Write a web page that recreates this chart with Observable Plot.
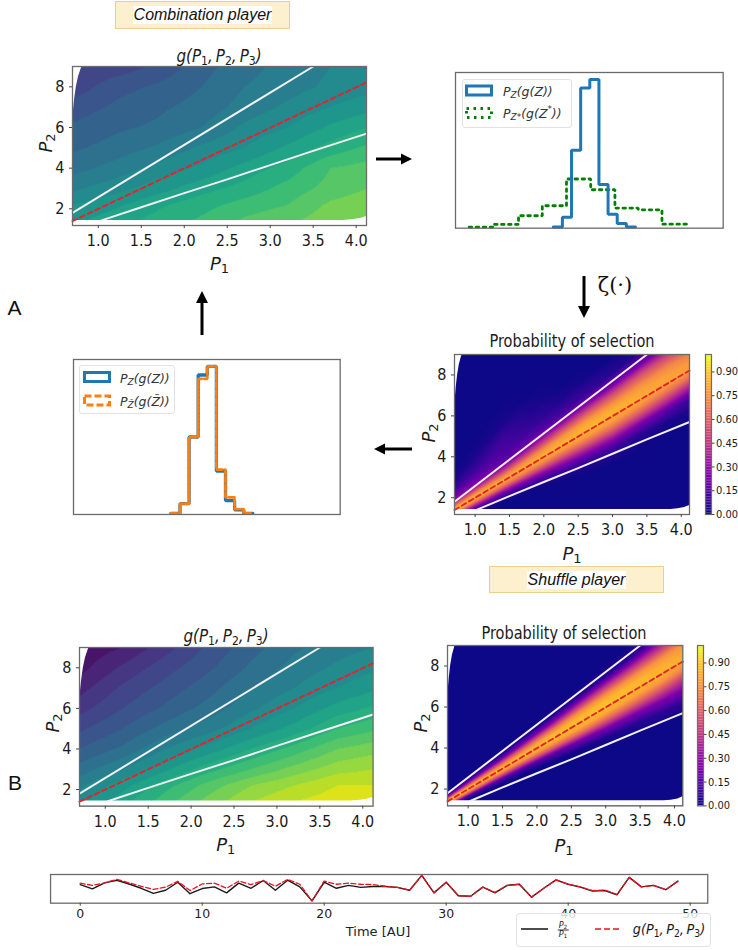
<!DOCTYPE html>
<html><head><meta charset="utf-8">
<script src="https://cdn.jsdelivr.net/npm/d3@7"></script>
<script src="https://cdn.jsdelivr.net/npm/@observablehq/plot@0.6"></script>
<style>
html,body{margin:0;padding:0;background:#fff}
#root{position:relative;width:738px;height:950px;overflow:hidden;font-family:"DejaVu Sans",sans-serif;color:#1a1a1a}
#root svg{position:absolute;background:transparent}
.t{position:absolute;white-space:nowrap;transform:translate(-50%,-50%)}
.math{font-family:"DejaVu Sans",sans-serif;font-style:italic}
.math sub{font-size:.72em;vertical-align:-.28em;line-height:0;font-style:normal}
.math sub.i{font-style:italic}
.cond{font-family:"DejaVu Sans Condensed","DejaVu Sans",sans-serif}
.tag{position:absolute;box-sizing:border-box;background:#fdf0cf;border:1px solid #e9d08f}
.tag span{position:absolute;left:50%;top:50%;transform:translate(-50%,-50%);background:#fff;font:italic 16px "Liberation Sans",sans-serif;white-space:nowrap;padding:0 1px;color:#111}
.legend{position:absolute;box-sizing:border-box;background:rgba(255,255,255,.85);border:1px solid #e2e2e2;border-radius:3px}
</style></head><body><div id="root"></div>
<script>
// ---- shared axes
const p1Domain = [0.7, 4.12];
const p2Domain = [1.18, 9];
const p1Ticks = [1, 1.5, 2, 2.5, 3, 3.5, 4];
const p2Ticks = [2, 4, 6, 8];
const cbarTicks = [0, 0.15, 0.3, 0.45, 0.6, 0.75, 0.9];
const cbarStops = d3.range(0, 101).map(d => d / 100);

// ---- reference lines (P1, P2)
const midP1 = [0.7, 4.12], midP2 = [1.4, 8.22];
const upperP1 = [0.7, 3.5], upperP2 = [1.8, 9];
const lowerP1 = [1.03, 1.5, 2, 2.5, 3, 3.5, 4.12], lowerP2 = [1.42, 2.08, 2.77, 3.45, 4.15, 4.85, 5.7];

// ---- unsampled zone of the maps
const maskTopP2 = [6.3, 6.8, 7.4, 8, 8.5, 9];
const maskTopP1 = [0.7, 0.71, 0.725, 0.745, 0.77, 0.81];
const maskBottomP1 = [0.7, 3.85, 3.95, 4.05, 4.12];
const maskBottomP2 = [1.43, 1.43, 1.46, 1.52, 1.62];

// ---- g(P1,P2,P3) maps (rows from low P2 to high P2)
const gP1 = [0.7, 1.2, 1.7, 2.2, 2.7, 3.2, 3.7, 4.12];
const gP2 = [1.4, 2.2, 3, 4, 5, 6, 7, 8, 9];
const gCombination = [
  [.54,.58,.62,.66,.71,.74,.78,.80],
  [.50,.54,.59,.63,.67,.70,.76,.78],
  [.44,.48,.53,.58,.62,.67,.72,.75],
  [.38,.42,.47,.51,.57,.62,.70,.72],
  [.34,.37,.41,.46,.50,.56,.62,.66],
  [.31,.34,.36,.40,.46,.50,.56,.60],
  [.27,.31,.34,.37,.42,.46,.50,.53],
  [.22,.28,.31,.35,.40,.43,.46,.48],
  [.20,.22,.26,.33,.38,.42,.45,.46]
];
const gShuffle = [
  [.48,.58,.68,.77,.85,.90,.93,.93],
  [.44,.53,.63,.72,.80,.85,.90,.90],
  [.37,.45,.54,.63,.70,.77,.83,.85],
  [.30,.36,.45,.52,.60,.67,.75,.78],
  [.24,.30,.37,.43,.50,.57,.65,.69],
  [.18,.25,.31,.37,.44,.50,.57,.61],
  [.13,.21,.27,.33,.40,.45,.50,.54],
  [.08,.16,.23,.29,.36,.42,.46,.49],
  [.06,.10,.18,.26,.33,.39,.43,.45]
];

// ---- probability of selection, read along rays P2/P1
const probP1 = [0.7, 1.0, 1.4, 1.8, 2.2, 2.6, 3.0, 3.4, 3.8, 4.12];
const probRatio = [0.2, 1.2, 1.35, 1.5, 1.65, 1.8, 1.9, 2.0, 2.1, 2.2, 2.35, 2.5, 2.7, 3.0, 3.4, 4, 5, 13];
const probCombination = [
  [0,0,0,0,0,0,0,0,0,0],
  [0,0,0,0,0,0,0,0,0,0],
  [.05,.05,.02,.01,.02,.03,.03,.01,0,0],
  [.3,.2,.12,.12,.14,.14,.12,.05,.02,.02],
  [.5,.4,.32,.32,.34,.36,.34,.24,.15,.08],
  [.72,.66,.6,.6,.6,.62,.62,.55,.46,.38],
  [.82,.76,.72,.74,.74,.76,.76,.72,.66,.62],
  [.86,.84,.82,.82,.84,.84,.84,.82,.8,.78],
  [.82,.8,.76,.78,.8,.82,.82,.8,.78,.76],
  [.74,.72,.66,.7,.74,.76,.74,.74,.72,.68],
  [.58,.54,.46,.48,.52,.54,.52,.54,.5,.46],
  [.42,.36,.28,.3,.3,.28,.24,.24,.22,.22],
  [.3,.25,.17,.17,.12,.08,.04,.02,0,0],
  [.2,.16,.13,.08,.03,.01,0,0,0,0],
  [.1,.08,.1,.03,0,0,0,0,0,0],
  [.02,.02,.02,0,0,0,0,0,0,0],
  [0,0,0,0,0,0,0,0,0,0],
  [0,0,0,0,0,0,0,0,0,0]
];
const probShuffle = [
  [0,0,0,0,0,0,0,0,0,0],
  [0,0,0,0,0,0,0,0,0,0],
  [0,0,0,0,0,0,0,0,0,0],
  [0,0,0,0,0,.01,.02,.03,.05,.05],
  [.16,.12,.1,.1,.14,.2,.24,.24,.24,.24],
  [.62,.56,.5,.52,.58,.62,.62,.6,.56,.48],
  [.8,.76,.74,.76,.78,.8,.8,.78,.76,.7],
  [.87,.87,.87,.87,.87,.87,.87,.85,.84,.82],
  [.8,.78,.76,.78,.82,.84,.85,.84,.82,.8],
  [.55,.55,.55,.6,.66,.72,.74,.74,.74,.74],
  [.22,.22,.2,.24,.28,.36,.4,.4,.42,.46],
  [.05,.03,.02,.03,.03,.04,.05,.05,.14,.24],
  [0,0,0,0,0,0,0,0,0,0],
  [0,0,0,0,0,0,0,0,0,0],
  [0,0,0,0,0,0,0,0,0,0],
  [0,0,0,0,0,0,0,0,0,0],
  [0,0,0,0,0,0,0,0,0,0],
  [0,0,0,0,0,0,0,0,0,0]
];

// ---- histograms (bin edges in bin units, heights as a share of the box)
const stepEdges = [10.7,11.7,12.7,13.7,14.7,15.7,16.7,17.7,18.7,19.7];
const histZ = [.007,.07,.5,.9,.955,.28,.09,.03,.007];
const dotEdges = [1.5,4.1,6.9,9.5,12.15,14.8,17.45,20,22.6,25.35];
const histZstar = [.007,.024,.08,.144,.316,.247,.129,.118,.026];
const histZmid = [.007,.07,.5,.9,.955,.28,.09,.03,.007];
const histZtilde = [.007,.07,.5,.875,.955,.29,.11,.035,.007];

// ---- time course
const time = d3.range(0, 50);
const ratioSeries = [.65,.5,.71,.8,.67,.52,.34,.45,.73,.33,.51,.57,.36,.70,.52,.79,.45,.80,.57,.08,.73,.52,.62,.55,.58,.58,.55,.45,.97,.36,.73,.26,.24,.56,.36,.62,.66,.21,.52,.81,.66,.56,.42,.44,.29,.90,.57,.62,.47,.77];
const gSeries = [.70,.62,.71,.83,.71,.59,.48,.56,.76,.44,.67,.70,.52,.77,.65,.79,.59,.83,.66,.08,.77,.66,.70,.66,.65,.59,.55,.45,.97,.36,.73,.26,.24,.56,.38,.62,.66,.21,.52,.81,.66,.57,.44,.46,.31,.90,.57,.62,.47,.77];

const root = document.getElementById("root");
const FONT = '"DejaVu Sans Condensed","DejaVu Sans",sans-serif';
const FRAME = "#6b6b6b";

function place(svg, x, y) {
  svg.style.left = x + "px"; svg.style.top = y + "px"; root.appendChild(svg);
}
function text(x, y, html, css = "", cls = "") {
  const d = document.createElement("div");
  d.className = "t " + cls; d.innerHTML = html;
  d.style.cssText = `left:${x}px;top:${y}px;${css}`;
  root.appendChild(d); return d;
}
const zip = (a, b) => a.map((x, i) => ({x, y: b[i]}));

// Reads a value table between its stations for the raster.
function lookup(xs, ys, rows) {
  const at = (arr, v) => {
    const i = Math.max(0, Math.min(arr.length - 2, d3.bisectRight(arr, v) - 1));
    return [i, Math.max(0, Math.min(1, (v - arr[i]) / (arr[i + 1] - arr[i])))];
  };
  return (x, y) => {
    const [i, u] = at(xs, x), [j, w] = at(ys, y);
    const a = rows[j][i] * (1 - u) + rows[j][i + 1] * u;
    const b = rows[j + 1][i] * (1 - u) + rows[j + 1][i + 1] * u;
    return a * (1 - w) + b * w;
  };
}

function mapPanel(box, fill, scheme, quant) {
  const [x0, y0, x1, y1] = box;
  const mL = 42, mT = 4, mR = 8, mB = 32;
  const color = quant ? {type: "quantize", n: quant, scheme, domain: [0, 1]} : {type: "linear", scheme, domain: [0, 1]};
  const svg = Plot.plot({
    width: x1 - x0 + mL + mR, height: y1 - y0 + mT + mB,
    marginLeft: mL, marginTop: mT, marginRight: mR, marginBottom: mB,
    x: {domain: p1Domain}, y: {domain: p2Domain}, color,
    style: {fontFamily: FONT, fontSize: "16px", color: "#1a1a1a", overflow: "visible"},
    marks: [
      Plot.raster({fill, pixelSize: 1, x1: p1Domain[0], x2: p1Domain[1], y1: p2Domain[0], y2: p2Domain[1]}),
      Plot.areaY(zip(maskBottomP1, maskBottomP2), {x: "x", y1: p2Domain[0], y2: "y", fill: "white"}),
      Plot.areaX(zip(maskTopP1, maskTopP2), {y: "y", x1: p1Domain[0], x2: "x", fill: "white"}),
      Plot.line(zip(upperP1, upperP2), {x: "x", y: "y", stroke: "#f3f1f5", strokeWidth: 2}),
      Plot.line(zip(lowerP1, lowerP2), {x: "x", y: "y", stroke: "#f3f1f5", strokeWidth: 2}),
      Plot.line(zip(midP1, midP2), {x: "x", y: "y", stroke: "#e8202a", strokeWidth: 1.9, strokeDasharray: "5 3.4"}),
      Plot.frame({stroke: FRAME, strokeWidth: 1.3}),
      Plot.axisX({ticks: p1Ticks, tickFormat: ".1f", tickSize: 3, tickPadding: 6, label: null, stroke: "#444"}),
      Plot.axisY({ticks: p2Ticks, tickSize: 3, tickPadding: 5, label: null, stroke: "#444"})
    ]
  });
  place(svg, x0 - mL, y0 - mT);
}

function colorbar(box) {
  const [x0, y0, x1, y1] = box;
  const mL = 2, mR = 27, mT = 3, mB = 8;
  const svg = Plot.plot({
    width: x1 - x0 + mL + mR, height: y1 - y0 + mT + mB,
    marginLeft: mL, marginRight: mR, marginTop: mT, marginBottom: mB,
    x: {domain: [0, 1], axis: null}, y: {domain: [0, 1.01]},
    color: {type: "linear", scheme: "plasma", domain: [0, 1]},
    style: {fontFamily: FONT, fontSize: "11px", color: "#1a1a1a", overflow: "visible"},
    marks: [
      Plot.rect(cbarStops, {x1: 0, x2: 1, y1: d => d, y2: d => d + 0.0101, fill: d => d}),
      Plot.frame({stroke: FRAME, strokeWidth: 1.2}),
      Plot.axisY({anchor: "right", ticks: cbarTicks, tickFormat: ".2f", tickSize: 2.5, tickPadding: 2, label: null, stroke: "#444"})
    ]
  });
  place(svg, x0 - mL, y0 - mT);
}

function histPanel(box, layers) {
  const [x0, y0, x1, y1] = box;
  const svg = Plot.plot({
    width: x1 - x0 + 4, height: y1 - y0 + 4,
    marginLeft: 2, marginRight: 2, marginTop: 2, marginBottom: 2,
    x: {domain: [0, 29.3], axis: null}, y: {domain: [0, 1], axis: null},
    marks: [
      ...layers.map(l => Plot.line(l.edges.map((e, i) => ({x: e, y: l.values[Math.min(i, l.values.length - 1)]})),
        {x: "x", y: "y", curve: "step-after", stroke: l.stroke, strokeWidth: l.w || 3, strokeDasharray: l.dash, strokeLinejoin: "miter"})),
      Plot.frame({stroke: FRAME, strokeWidth: 1.3})
    ]
  });
  place(svg, x0 - 2, y0 - 2);
}

function legendBox(x, y, w, h) {
  const d = document.createElement("div");
  d.className = "legend";
  d.style.cssText = `left:${x}px;top:${y}px;width:${w}px;height:${h}px`;
  root.appendChild(d);
}
const legendText = (x, y, html) => text(x, y, html, "font-size:12.5px;transform:translate(0,-50%);color:#333", "math");

function tag(x, y, w, h, label) {
  const d = document.createElement("div");
  d.className = "tag";
  d.style.cssText = `left:${x}px;top:${y}px;width:${w}px;height:${h}px`;
  d.innerHTML = `<span>${label}</span>`;
  root.appendChild(d);
}
tag(115, 1, 175, 28, "Combination player");
tag(489, 566, 175, 27, "Shuffle player");

const gTitle = 'g(P<sub>1</sub>,\u2009P<sub>2</sub>,\u2009P<sub>3</sub>)';
const P1 = 'P<sub>1</sub>', P2 = 'P<sub>2</sub>';
const axisCss = "font-size:18px";
const rot = ";transform:translate(-50%,-50%) rotate(-90deg)";
const gCss = "font-size:18px;transform:translate(-50%,-50%) scaleX(.84)";
const condTitle = "font-size:18px;transform:translate(-50%,-50%) scaleX(.896)";

const gFill = rows => lookup(gP1, gP2, rows);
const probFill = rows => { const f = lookup(probP1, probRatio, rows); return (x, y) => f(x, y / x); };

// Panel A, combination
mapPanel([72, 66, 366, 225], gFill(gCombination), "viridis", 26);
text(219, 55, gTitle, gCss, "math");
text(219.5, 263, P1, axisCss, "math");
text(45, 143, P2, axisCss + rot, "math");

// Panel A, probability
mapPanel([454.3, 354.3, 689.3, 514.3], probFill(probCombination), "plasma");
colorbar([704.7, 354.3, 710.7, 514.3]);
text(572.3, 340, "Probability of selection", condTitle, "cond");
text(572, 553, P1, axisCss, "math");
text(428, 432.7, P2, axisCss + rot, "math");

// Panel B, g
mapPanel([78.7, 647.3, 372.3, 806], gFill(gShuffle), "viridis", 26);
text(225.7, 635, gTitle, gCss, "math");
text(225.7, 844, P1, axisCss, "math");
text(52, 723, P2, axisCss + rot, "math");

// Panel B, probability
mapPanel([446.7, 645.3, 682, 805.7], probFill(probShuffle), "plasma");
colorbar([696.7, 645.3, 702.7, 805.7]);
text(564, 631.7, "Probability of selection", condTitle, "cond");
text(564, 845, P1, axisCss, "math");
text(420, 723, P2, axisCss + rot, "math");

// Histograms
histPanel([455, 72, 722.7, 227.7], [
  {edges: dotEdges, values: histZstar, stroke: "#008000", dash: "2.5 4.5", w: 2.8},
  {edges: stepEdges, values: histZ, stroke: "#1f77b4"}
]);
legendBox(462, 79, 110, 48.5);
legendText(503, 90.5, 'P<sub class="i">Z</sub>(g(Z))');
legendText(503, 113, 'P<sub class="i">Z*</sub>(g(Z<sup style="font-size:.7em;line-height:0">*</sup>))');

histPanel([73.3, 359, 340, 514], [
  {edges: stepEdges, values: histZmid, stroke: "#1f77b4", w: 3.3},
  {edges: stepEdges, values: histZtilde, stroke: "#ff7f0e", dash: "5.5 2.5", w: 2.8}
]);
legendBox(79.3, 365, 96, 49);
legendText(120, 377.5, 'P<sub class="i">Z</sub>(g(Z))');
legendText(120, 400.5, 'P<sub class="i">Z\u0303</sub>(g(Z\u0303))');

// Time course
{
  const x0 = 50, y0 = 874, x1 = 707.3, y1 = 902.7, mB = 30;
  const svg = Plot.plot({
    width: x1 - x0 + 4, height: y1 - y0 + 2 + mB,
    marginLeft: 2, marginRight: 2, marginTop: 2, marginBottom: mB,
    x: {domain: [-2.43, 51.44]}, y: {domain: [0, 1], axis: null},
    style: {fontFamily: '"DejaVu Sans",sans-serif', fontSize: "12.5px", color: "#222", overflow: "visible"},
    marks: [
      Plot.line(zip(time, ratioSeries), {x: "x", y: "y", stroke: "#1a1a1a", strokeWidth: 1.4}),
      Plot.line(zip(time, gSeries), {x: "x", y: "y", stroke: "#f01020", strokeWidth: 1.3, strokeDasharray: "5 2.5"}),
      Plot.frame({stroke: FRAME, strokeWidth: 1.3}),
      Plot.axisX({ticks: [0, 10, 20, 30, 40, 50], tickSize: 3, tickPadding: 3, label: null, stroke: "#444"})
    ]
  });
  place(svg, x0 - 2, y0 - 2);
  text(378, 931, "Time [AU]", "font-size:13px;color:#222");
  const box = document.createElement("div");
  box.className = "legend";
  box.style.cssText = "left:516px;top:913px;width:195px;height:34px;background:rgba(255,255,255,.8)";
  root.appendChild(box);
  text(563, 930, '<span style="display:inline-block;text-align:center;line-height:1"><span style="display:block;border-bottom:1px solid #333;padding:0 1px">P<sub>2</sub></span><span style="display:block">P<sub>1</sub></span></span>', "font-size:8px", "math");
  text(668.5, 929, gTitle, "font-size:13.5px;transform:translate(-50%,-50%) scaleX(.95)", "math");
}

// Flow arrows and legend swatches
const flow = document.createElementNS("http://www.w3.org/2000/svg", "svg");
flow.setAttribute("width", 738); flow.setAttribute("height", 950);
flow.style.cssText = "left:0;top:0;pointer-events:none";
flow.innerHTML = `
  <g fill="#000" stroke="#000">
    <path d="M376 159H404" stroke-width="3"/><path d="M412 159L401 153.5V164.5Z" stroke="none"/>
    <path d="M584 276V308" stroke-width="3"/><path d="M584 318L578 306H590Z" stroke="none"/>
    <path d="M202 335V302" stroke-width="3"/><path d="M202 291L196 303H208Z" stroke="none"/>
    <path d="M412 449H384" stroke-width="3"/><path d="M374 449L385 443.5V454.5Z" stroke="none"/>
    <path d="M521 929H548" stroke="#111" stroke-width="1.5"/>
    <path d="M595 929H622" stroke="#f01020" stroke-width="1.5" stroke-dasharray="6 3"/>
  </g>
  <g fill="none" stroke-width="3">
    <rect x="466.5" y="86" width="25" height="9" stroke="#1f77b4"/>
    <rect x="466.5" y="108.5" width="25" height="9" stroke="#008000" stroke-dasharray="2.5 4.5"/>
    <rect x="84.5" y="372.5" width="25" height="9" stroke="#1f77b4"/>
    <rect x="84.5" y="396" width="25" height="9" stroke="#ff7f0e" stroke-dasharray="7 3"/>
  </g>`;
root.appendChild(flow);

text(615, 285, "ζ(·)", 'font-size:21px;font-family:"DejaVu Serif",serif;color:#111');
text(14.5, 308, "A", 'font-size:21px;font-family:"Liberation Sans",sans-serif;color:#111');
text(15, 783, "B", 'font-size:21px;font-family:"Liberation Sans",sans-serif;color:#111');
</script></body></html>
